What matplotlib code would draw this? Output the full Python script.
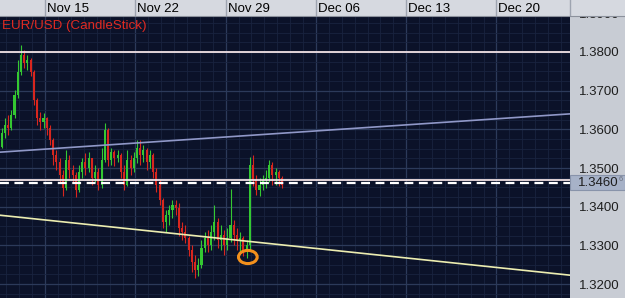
import numpy as np
import pandas as pd
import matplotlib
matplotlib.use("Agg")
import matplotlib.pyplot as plt
import matplotlib.dates as mdates
from matplotlib.patches import Ellipse, Rectangle
from matplotlib.transforms import blended_transform_factory

plt.rcParams['font.family'] = ['Liberation Sans', 'DejaVu Sans']

# EUR/USD 6-hour candles
start_time = "2010-11-11 15:00"
first_open = 1.3554
close_px = [1.3590, 1.3611, 1.3603, 1.3637, 1.3689, 1.3748, 1.3792, 1.3771, 1.3779, 1.3748,
            1.3676, 1.3629, 1.3619, 1.3629, 1.3603, 1.3572, 1.3533, 1.3515, 1.3482, 1.3448,
            1.3521, 1.3495, 1.3482, 1.3443, 1.3490, 1.3515, 1.3500, 1.3526, 1.3474, 1.3490,
            1.3456, 1.3521, 1.3598, 1.3521, 1.3541, 1.3526, 1.3533, 1.3490, 1.3456, 1.3521,
            1.3500, 1.3526, 1.3552, 1.3533, 1.3546, 1.3515, 1.3533, 1.3490, 1.3456, 1.3417,
            1.3360, 1.3378, 1.3391, 1.3404, 1.3397, 1.3345, 1.3335, 1.3319, 1.3288, 1.3257,
            1.3236, 1.3249, 1.3293, 1.3319, 1.3301, 1.3335, 1.3360, 1.3314, 1.3327, 1.3301,
            1.3319, 1.3353, 1.3327, 1.3314, 1.3319, 1.3288, 1.3301, 1.3508, 1.3469, 1.3443,
            1.3456, 1.3469, 1.3474, 1.3508, 1.3482, 1.3490, 1.3474, 1.3456]
high_px = [1.3603, 1.3629, 1.3637, 1.3650, 1.3701, 1.3779, 1.3818, 1.3805, 1.3792, 1.3784,
           1.3753, 1.3681, 1.3645, 1.3642, 1.3632, 1.3611, 1.3577, 1.3546, 1.3526, 1.3495,
           1.3546, 1.3533, 1.3508, 1.3490, 1.3508, 1.3526, 1.3539, 1.3541, 1.3526, 1.3508,
           1.3500, 1.3552, 1.3616, 1.3603, 1.3552, 1.3546, 1.3546, 1.3539, 1.3508, 1.3546,
           1.3533, 1.3541, 1.3572, 1.3572, 1.3559, 1.3552, 1.3546, 1.3539, 1.3500, 1.3469,
           1.3422, 1.3391, 1.3404, 1.3417, 1.3417, 1.3409, 1.3360, 1.3353, 1.3324, 1.3301,
           1.3275, 1.3267, 1.3314, 1.3335, 1.3340, 1.3353, 1.3404, 1.3371, 1.3353, 1.3340,
           1.3345, 1.3446, 1.3366, 1.3345, 1.3335, 1.3324, 1.3314, 1.3528, 1.3533, 1.3482,
           1.3474, 1.3482, 1.3495, 1.3521, 1.3515, 1.3500, 1.3495, 1.3479]
low_px = [1.3552, 1.3577, 1.3585, 1.3598, 1.3629, 1.3681, 1.3740, 1.3758, 1.3753, 1.3738,
          1.3663, 1.3611, 1.3598, 1.3603, 1.3585, 1.3559, 1.3508, 1.3495, 1.3464, 1.3428,
          1.3443, 1.3474, 1.3464, 1.3425, 1.3438, 1.3474, 1.3482, 1.3490, 1.3456, 1.3464,
          1.3443, 1.3448, 1.3515, 1.3505, 1.3508, 1.3505, 1.3515, 1.3474, 1.3443, 1.3453,
          1.3482, 1.3490, 1.3513, 1.3508, 1.3515, 1.3495, 1.3500, 1.3474, 1.3438, 1.3404,
          1.3345, 1.3335, 1.3353, 1.3371, 1.3378, 1.3324, 1.3314, 1.3306, 1.3273, 1.3231,
          1.3216, 1.3221, 1.3242, 1.3283, 1.3283, 1.3288, 1.3314, 1.3293, 1.3288, 1.3275,
          1.3288, 1.3309, 1.3301, 1.3288, 1.3283, 1.3273, 1.3267, 1.3288, 1.3453, 1.3430,
          1.3428, 1.3443, 1.3448, 1.3464, 1.3456, 1.3456, 1.3453, 1.3448]

# drawn lines
week_ticks = ["2010-11-15", "2010-11-22", "2010-11-29", "2010-12-06", "2010-12-13", "2010-12-20"]
view_range = ["2010-11-11 12:00", "2010-12-25 16:48"]
upper_trend = [1.3541, 1.3640]
lower_trend = [1.3378, 1.3223]
resistance = 1.3800
support = 1.3469
last_price = 1.3461
y_ticks = [1.32, 1.33, 1.34, 1.35, 1.36, 1.37, 1.38, 1.39]
marker_time = "2010-11-30 17:15"
marker_price = 1.3270

bg = '#0b1229'
times = mdates.date2num(pd.date_range(start_time, periods=len(close_px), freq="6h"))
opens = [first_open] + close_px[:-1]
x0, x1 = mdates.date2num(pd.to_datetime(view_range))

fig = plt.figure(figsize=(6.25, 2.98), dpi=100)
fig.patch.set_facecolor('#c8ccd4')
ax = fig.add_axes([0, 0, 570 / 625, 282 / 298])
ax.set_facecolor(bg)

# grid
ax.set_yticks(y_ticks)
ax.set_yticks(np.arange(1.3150, 1.3900, 0.0025), minor=True)
ax.set_xticks(mdates.date2num(pd.to_datetime(week_ticks)))
ax.xaxis.set_minor_locator(mdates.DayLocator())
ax.grid(which='minor', color='#19233f', lw=0.6)
ax.grid(which='major', color='#2c3a5a', lw=0.9)
ax.set_axisbelow(True)

# candles
for t, o, h, l, c in zip(times, opens, high_px, low_px, close_px):
    col = '#34c832' if c >= o else '#d8261e'
    ax.vlines(t, min(l, o, c), max(h, o, c), color=col, lw=0.8, zorder=3)
    ax.bar(t, abs(c - o) + 0.00008, bottom=min(o, c), width=0.16, color=col, lw=0, zorder=3)

# levels and trend lines
ax.axhline(resistance, color='#f2e2e4', lw=1.3, zorder=4)
ax.axhline(support, color='#f2e2e4', lw=1.3, zorder=4)
ax.axhline(last_price, color='white', lw=1.6, ls=(0, (4, 2.5)), zorder=4)
ax.plot([x0, x1], upper_trend, color='#9098c8', lw=1.2, zorder=4)
ax.plot([x0, x1], lower_trend, color='#ecedb0', lw=1.2, zorder=4)

ax.add_patch(Ellipse((mdates.date2num(pd.Timestamp(marker_time)), marker_price),
                     1.45, 0.0034, fill=False, ec='#f3901c', lw=2.2, zorder=5))

ax.text(0.004, 0.986, "EUR/USD (CandleStick)", transform=ax.transAxes, color='#e02a22',
        fontsize=9.6, va='top', ha='left')

ax.set_xlim(x0, x1)
ax.set_ylim(1.3164, 1.3893)
ax.yaxis.tick_right()
ax.yaxis.set_major_formatter(plt.FormatStrFormatter('%.4f'))
ax.tick_params(axis='y', which='both', length=0, pad=6.5, labelsize=9.5, labelcolor='#1e1e1e')
ax.tick_params(axis='x', which='both', length=0, labelbottom=False)
for s in ax.spines.values():
    s.set_visible(False)

tr = blended_transform_factory(ax.transAxes, ax.transData)

# cut-off label peeking out under the header
ax.text(1.0 + 9 / 570, 1.3896, "1.3900", transform=tr, fontsize=9.5, color='#1e1e1e',
        va='center', ha='left', clip_on=False)

# last price box on the axis
ax.add_patch(Rectangle((1.0, last_price - 0.0019), 55 / 570, 0.0039, transform=tr,
                       fc='#a7b2c8', ec='#8893aa', lw=0.8, clip_on=False, zorder=6))
ax.text(1.0 + 8 / 570, last_price, "1.3460", transform=tr, fontsize=9.5,
        color='#1e1e1e', va='center', ha='left', clip_on=False, zorder=7)
ax.text(1.0 + 49 / 570, last_price + 0.0009, "6", transform=tr, fontsize=5.5,
        color='#6a7080', va='center', ha='left', clip_on=False, zorder=7)

# date header
hax = fig.add_axes([0, 282 / 298, 1, 16 / 298])
hax.set_facecolor('#d6d9e0')
hax.set_xlim(x0, x0 + (x1 - x0) * 625 / 570)
hax.set_ylim(0, 1)
for d in pd.to_datetime(week_ticks):
    t = mdates.date2num(d)
    hax.axvline(t, color='#9ea4b0', lw=1)
    hax.text(t + 0.15, 0.45, d.strftime('%b %d'), fontsize=9.5, color='black', va='center', ha='left')
hax.axvline(x1, color='#9ea4b0', lw=1)
hax.set_xticks([])
hax.set_yticks([])
for k, s in hax.spines.items():
    s.set_visible(k == 'bottom')
hax.spines['bottom'].set_color('#8c919c')

fig.savefig("out.png", dpi=100, facecolor=fig.get_facecolor())
